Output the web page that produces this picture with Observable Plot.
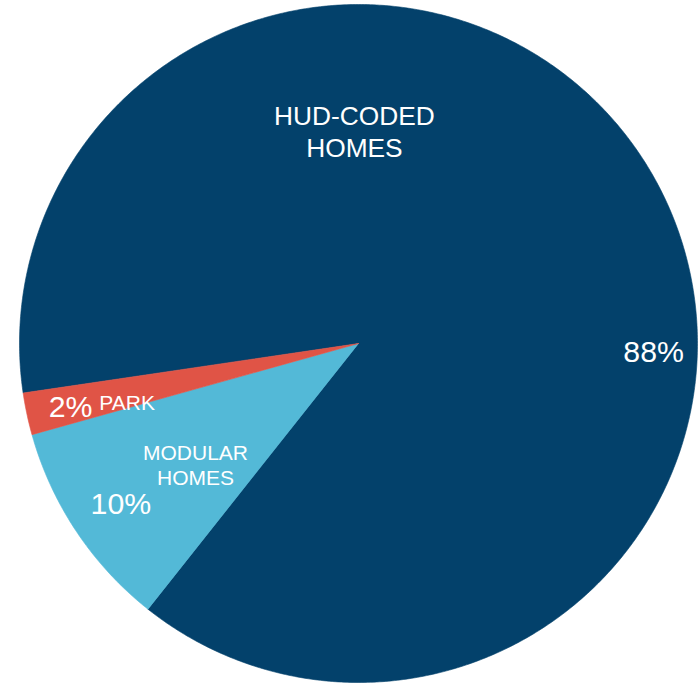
<!DOCTYPE html>
<html><head><meta charset="utf-8">
<script src="https://cdn.jsdelivr.net/npm/d3@7"></script>
<script src="https://cdn.jsdelivr.net/npm/@observablehq/plot@0.6"></script>
<style>html,body{margin:0;padding:0;background:#fff;overflow:hidden}</style>
</head><body><div id="chart"></div>
<script>
// ---- data ----
const categories = ["HUD-CODED HOMES", "MODULAR HOMES", "PARK"];
const shares = [88, 10, 2];
const valueLabels = ["88%", "10%", "2%"];
const nameLabels = ["HUD-CODED\nHOMES", "MODULAR\nHOMES", "PARK"];
const colors = ["#03416b", "#53b9d7", "#e05446"];

// ---- layout (label placement in polar terms: angle clockwise from 12 o'clock, radius fraction) ----
const startDeg = 261.6;
const nameLayout = [{deg: 358.9, r: 0.628, size: 26.3}, {deg: 233.4, r: 0.599, size: 21}, {deg: 255.8, r: 0.704, size: 21}];
const valueLayout = [{deg: 91.8, r: 0.871, size: 30.3}, {deg: 235.95, r: 0.846, size: 30.3}, {deg: 257.5, r: 0.870, size: 30.3}];

const rows = categories.map((c, i) => ({name: c, share: shares[i]}));
const s0 = startDeg * Math.PI / 180;
const arcs = d3.pie().sort(null).value(d => d.share).startAngle(s0).endAngle(s0 + 2 * Math.PI)(rows);

const pts = [];
arcs.forEach(a => {
  const n = Math.max(2, Math.ceil((a.endAngle - a.startAngle) / (Math.PI / 360)));
  pts.push({name: a.data.name, x: 0, y: 0});
  for (let k = 0; k <= n; k++) {
    const t = a.startAngle + (a.endAngle - a.startAngle) * k / n;
    pts.push({name: a.data.name, x: Math.sin(t), y: Math.cos(t)});
  }
  pts.push({name: a.data.name, x: 0, y: 0});
});

const toXY = (L, text) => ({text, x: L.r * Math.sin(L.deg * Math.PI / 180), y: L.r * Math.cos(L.deg * Math.PI / 180), size: L.size});
const nameTexts = nameLabels.map((t, i) => toXY(nameLayout[i], t));
const valueTexts = valueLabels.map((t, i) => toXY(valueLayout[i], t));

const chart = Plot.plot({
  width: 699, height: 686,
  marginLeft: 19, marginRight: 2, marginTop: 4, marginBottom: 4,
  x: {domain: [-1, 1], axis: null},
  y: {domain: [-1, 1], axis: null},
  color: {domain: categories, range: colors},
  style: {fontFamily: "'Liberation Sans', Arial, sans-serif", background: "white"},
  marks: [
    Plot.line(pts, {x: "x", y: "y", z: "name", fill: "name", stroke: "name", strokeWidth: 0.6, curve: "linear"}),
    Plot.text(nameTexts, {x: "x", y: "y", text: "text", fontSize: "size", fill: "white", lineHeight: 1.2, textAnchor: "middle"}),
    Plot.text(valueTexts, {x: "x", y: "y", text: "text", fontSize: "size", fill: "white", textAnchor: "middle"})
  ]
});
document.getElementById("chart").appendChild(chart);
</script>
</body></html>
